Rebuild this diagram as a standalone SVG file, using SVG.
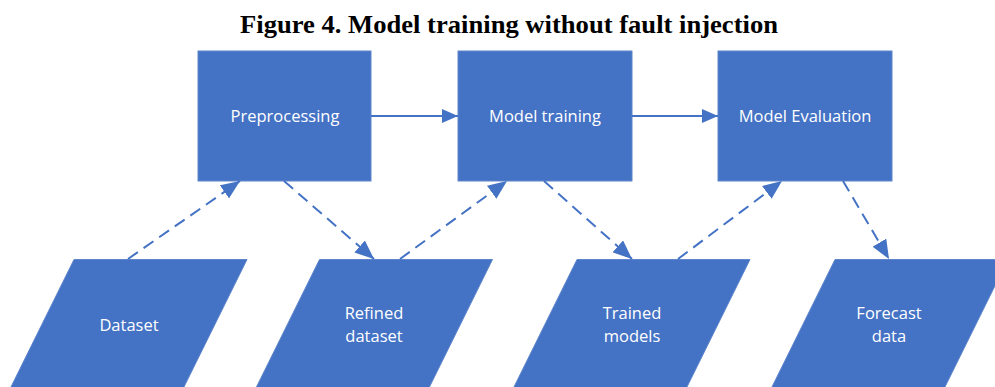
<svg xmlns="http://www.w3.org/2000/svg" width="995" height="387" viewBox="0 0 995 387">
  <style>
    .title { font-family: "Liberation Serif", "Times New Roman", serif; font-weight: bold; font-size: 26px; fill: #000; }
    .box { fill: #4472C4; stroke: #5F86CC; stroke-width: 1; }
    .label { font-family: "Open Sans", "Noto Sans", sans-serif; font-size: 16.5px; fill: #FFFFFF; text-anchor: middle; }
    .flow { stroke: #4472C4; stroke-width: 2; fill: none; }
    .solid { marker-end: url(#head); }
    .dashed { stroke-dasharray: 12 7; marker-end: url(#dhead); }
  </style>
  <defs>
    <marker id="head" viewBox="0 0 16 14" refX="16" refY="7" markerWidth="16" markerHeight="14" markerUnits="userSpaceOnUse" orient="auto">
      <path d="M0,0 L16,7 L0,14 Z" fill="#4472C4"/>
    </marker>
    <marker id="dhead" viewBox="0 0 19 16" refX="19" refY="8" markerWidth="19" markerHeight="16" markerUnits="userSpaceOnUse" orient="auto">
      <path d="M0,0 L19,8 L0,16 Z" fill="#4472C4"/>
    </marker>
  </defs>

  <rect width="995" height="387" fill="#FFFFFF"/>

  <text class="title" x="509" y="33" text-anchor="middle" textLength="538" lengthAdjust="spacingAndGlyphs">Figure 4. Model training without fault injection</text>

  <!-- process steps -->
  <g id="preprocessing">
    <rect class="box" x="198" y="51" width="173" height="130"/>
    <text class="label" x="285" y="122">Preprocessing</text>
  </g>
  <g id="model-training">
    <rect class="box" x="458" y="51" width="174" height="130"/>
    <text class="label" x="545" y="122">Model training</text>
  </g>
  <g id="model-evaluation">
    <rect class="box" x="718" y="51" width="174" height="130"/>
    <text class="label" x="805" y="122">Model Evaluation</text>
  </g>

  <!-- data items -->
  <g id="dataset">
    <polygon class="box" points="74,259.5 247,259.5 180,395 7,395"/>
    <text class="label" x="129" y="331">Dataset</text>
  </g>
  <g id="refined-dataset">
    <polygon class="box" points="319.5,259.5 492.5,259.5 425.5,395 252.5,395"/>
    <text class="label" x="374" y="319">Refined</text>
    <text class="label" x="374" y="342">dataset</text>
  </g>
  <g id="trained-models">
    <polygon class="box" points="577,259.5 750,259.5 683,395 510,395"/>
    <text class="label" x="632" y="319">Trained</text>
    <text class="label" x="632" y="342">models</text>
  </g>
  <g id="forecast-data">
    <polygon class="box" points="835,259.5 1008,259.5 941,395 768,395"/>
    <text class="label" x="889" y="319">Forecast</text>
    <text class="label" x="889" y="342">data</text>
  </g>

  <!-- connectors -->
  <g id="connectors">
    <line class="flow solid" x1="371" y1="116" x2="458" y2="116"/>
    <line class="flow solid" x1="632" y1="116" x2="718" y2="116"/>
    <line class="flow dashed" x1="128" y1="259" x2="240" y2="181"/>
    <line class="flow dashed" x1="284" y1="181" x2="374" y2="259"/>
    <line class="flow dashed" x1="400" y1="259" x2="507" y2="181"/>
    <line class="flow dashed" x1="544" y1="181" x2="632" y2="259"/>
    <line class="flow dashed" x1="678" y1="259" x2="782" y2="181"/>
    <line class="flow dashed" x1="843" y1="181" x2="889" y2="259"/>
  </g>
</svg>
